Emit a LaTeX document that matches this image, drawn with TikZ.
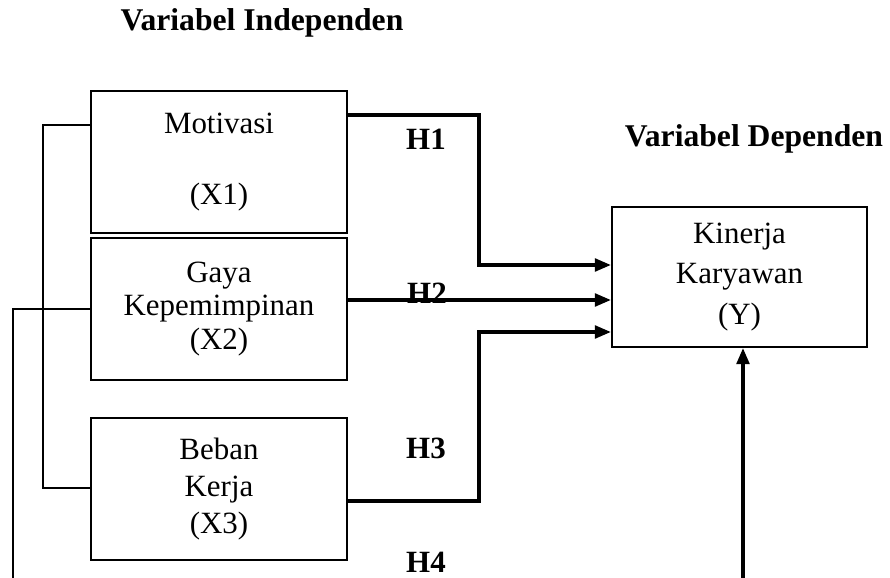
\documentclass[tikz,border=0pt]{standalone}
\usepackage{fontspec}
\setmainfont{Liberation Serif}
\usetikzlibrary{arrows.meta, positioning}
\tikzset{
  varbox/.style = {rectangle, draw=black, line width=1.6pt, align=center, inner sep=0pt, minimum width=6.4cm, minimum height=3.55cm, font=\fontsize{22}{24}\selectfont},
  line/.style = {-{Triangle[length=4mm, width=3.2mm]}, line width=2.2pt},
  link/.style = {line width=1.3pt},
  hyp/.style = {font=\fontsize{22}{24}\selectfont\bfseries, inner sep=1pt},
  heading/.style = {font=\fontsize{22.5}{26}\selectfont\bfseries}
}

\begin{document}
\begin{tikzpicture}[x=0.025cm, y=-0.025cm]
\useasboundingbox (0,0) rectangle (890,578);

% Headings
\node[heading] (indep) at (262,23) {Variabel Independen};
\node[heading] (dep) at (754,139) {Variabel Dependen};

% Independent variables
\node[varbox] (mot) at (219,162) {Motivasi\\[26pt](X1)};
\node[varbox] (gaya) at (219,309) {Gaya\\Kepemimpinan\\(X2)};
\node[varbox] (beban) at (219,489) {Beban\\[2pt]Kerja\\[2pt](X3)};

% Dependent variable
\node[varbox, minimum width=6.375cm, minimum height=3.5cm] (kin) at (739.5,277) {Kinerja\\[5pt]Karyawan\\[5pt](Y)};

% Hypotheses
\node[hyp] (h1) at (426,139) {H1};
\node[hyp] (h2) at (427,293) {H2};
\node[hyp] (h3) at (426,448) {H3};
\node[hyp] (h4) at (426,562) {H4};

% Arrows
\draw[line] (mot.east |- 0,115) -| (479,265) -- (kin.west |- 0,265);
\draw[line] (gaya.east |- 0,300) -- (kin.west |- 0,300);
\draw[line] (beban.east |- 0,501) -| (479,332) -- (kin.west |- 0,332);
\coordinate (ybot) at (743,578);
\draw[line] (ybot) -- (ybot |- kin.south);

% Links between the independents
\draw[link] (gaya.west) -| (13,578);
\draw[link] (mot.west |- 0,125) -| (43,488) -- (beban.west |- 0,488);

\end{tikzpicture}
\end{document}
